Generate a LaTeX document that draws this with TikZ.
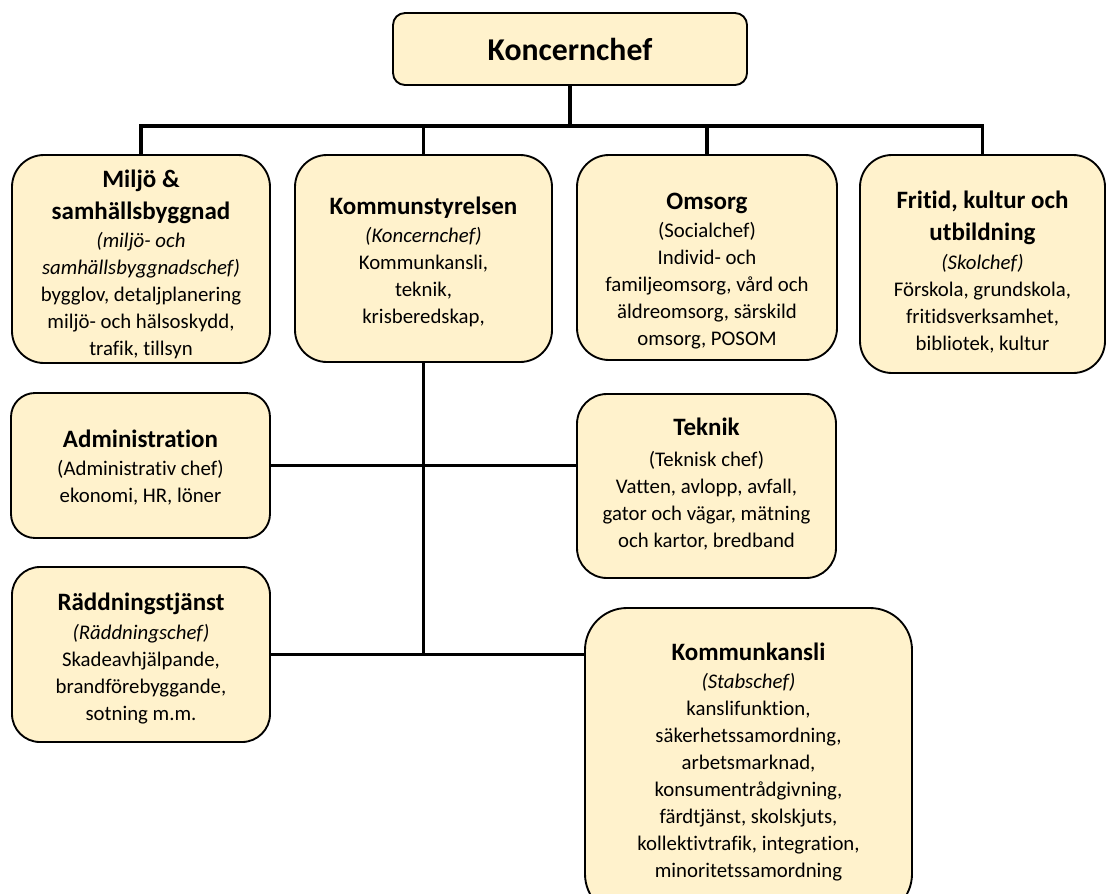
\documentclass[tikz,border=0pt]{standalone}
\usepackage{fontspec}
\setmainfont[Ligatures=NoCommon]{Carlito}
\usepackage{tikz}
\usetikzlibrary{calc}
\definecolor{boxfill}{RGB}{255,242,204}
\newcommand{\ttl}[1]{{\fontsize{18.75}{20.25}\selectfont\bfseries #1}}

\begin{document}
\begin{tikzpicture}[x=0.75pt,y=-0.75pt,
  unit/.style={draw, line width=1.4pt, fill=boxfill, inner sep=0pt},
  txt/.style={align=center, font=\fontsize{15.6}{20.25}\selectfont, inner sep=0pt},
  conn/.style={line width=2.4pt}]
\useasboundingbox (0,0) rectangle (1107,893);
\clip (0,0) rectangle (1107,893);

%Shape: Rounded Rect [top]
\node[unit, minimum width=265.5pt, minimum height=54pt, rounded corners=9pt] (koncern) at (570,49) {\fontsize{23.8}{28}\selectfont\bfseries Koncernchef};

%Shape: Rounded Rect [first row]
\node[unit, minimum width=193.5pt, minimum height=156pt, rounded corners=24pt] (miljo) at (141,259) {};
\node[unit, minimum width=192.75pt, minimum height=155.25pt, rounded corners=24pt] (ks) at (423.5,258.5) {};
\node[unit, minimum width=195pt, minimum height=153.75pt, rounded corners=24pt] (omsorg) at (707,257.5) {};
\node[unit, minimum width=183.75pt, minimum height=163.5pt, rounded corners=24pt] (fritid) at (982.5,264) {};

%Shape: Rounded Rect [under Kommunstyrelsen]
\node[unit, minimum width=194.25pt, minimum height=108.75pt, rounded corners=18pt] (admin) at (140.5,465.5) {};
\node[unit, minimum width=194.25pt, minimum height=138pt, rounded corners=22.5pt] (teknik) at (706.5,486) {};
\node[unit, minimum width=193.5pt, minimum height=131.25pt, rounded corners=21pt] (radd) at (141,654.5) {};
\node[unit, minimum width=245.25pt, minimum height=231pt, rounded corners=31.5pt] (kansli) at (748.5,762) {};

%Straight Lines
\coordinate (bus) at (569,126);
\draw[conn] (koncern.south) -- (koncern.south |- bus);
\draw[conn] (miljo.north) |- (fritid.north |- bus) -- (fritid.north);
\draw[conn] (ks.north) -- (ks.north |- bus);
\draw[conn] (omsorg.north) -- (omsorg.north |- bus);
\draw[conn] (ks.south) -- (ks.south |- radd.east);
\draw[conn] (admin.east) -- (admin.east -| teknik.west);
\draw[conn] (radd.east) -- (radd.east -| kansli.west);

% Text Node
\node[txt] (miljo-t) at ([yshift=-4pt]miljo.center) {\ttl{Miljö \&}\\[3.75pt]
  \ttl{samhällsbyggnad}\\[1pt] {\itshape (miljö- och}\\ {\itshape samhällsbyggnadschef)}\\
  bygglov, detaljplanering\\ miljö- och hälsoskydd,\\ trafik, tillsyn};
% Text Node
\node[txt] (ks-t) at ([yshift=-2.6pt]ks.center) {\ttl{Kommunstyrelsen}\\[1pt]
  {\itshape (Koncernchef)}\\ Kommunkansli,\\ teknik,\\ krisberedskap,};
% Text Node
\node[txt] (omsorg-t) at ([yshift=-10pt]omsorg.center) {\ttl{Omsorg}\\[0.5pt]
  (Socialchef)\\ Individ- och\\ familjeomsorg, vård och\\ äldreomsorg, särskild\\ omsorg, POSOM};
% Text Node
\node[txt] (fritid-t) at ([yshift=-6pt]fritid.center) {\ttl{Fritid, kultur och}\\[3.75pt]
  \ttl{utbildning}\\[1.5pt] {\itshape (Skolchef)}\\ Förskola, grundskola,\\ fritidsverksamhet,\\ bibliotek, kultur};
% Text Node
\node[txt] (admin-t) at ([yshift=-1.5pt]admin.center) {\ttl{Administration}\\[1pt]
  (Administrativ chef)\\ ekonomi, HR, löner};
% Text Node
\node[txt] (teknik-t) at ([yshift=1.5pt]teknik.center) {\ttl{Teknik}\\[2.5pt]
  (Teknisk chef)\\ Vatten, avlopp, avfall,\\ gator och vägar, mätning\\ och kartor, bredband};
% Text Node
\node[txt] (radd-t) at ([yshift=-3pt]radd.center) {\ttl{Räddningstjänst}\\[1.5pt]
  {\itshape (Räddningschef)}\\ Skadeavhjälpande,\\ brandförebyggande,\\ sotning m.m.};
% Text Node
\node[txt] (kansli-t) at (kansli.center) {\ttl{Kommunkansli}\\[1pt]
  {\itshape (Stabschef)}\\ kanslifunktion,\\ säkerhetssamordning,\\ arbetsmarknad,\\
  konsumentrådgivning,\\ färdtjänst, skolskjuts,\\ kollektivtrafik, integration,\\ minoritetssamordning};

\end{tikzpicture}
\end{document}
